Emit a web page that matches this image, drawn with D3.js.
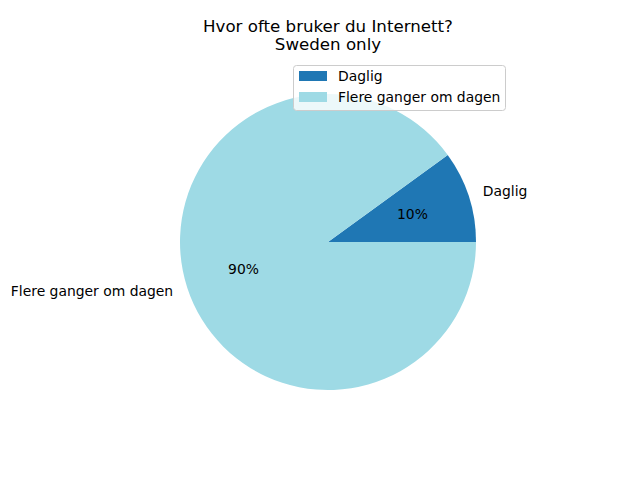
<!DOCTYPE html>
<html>
<head>
<meta charset="utf-8">
<script src="https://cdn.jsdelivr.net/npm/d3@7"></script>
<style>
  html, body { margin: 0; padding: 0; background: #fff; }
  svg { display: block; }
  text { font-family: "DejaVu Sans", sans-serif; fill: #000; }
</style>
</head>
<body>
<svg id="chart" width="640" height="480"></svg>
<script>
const categories = ["Daglig", "Flere ganger om dagen"];
const values = [10, 90];
const colors = ["#1f77b4", "#9edae5"];
const titleLines = ["Hvor ofte bruker du Internett?", "Sweden only"];

const svg = d3.select("#chart");
const cx = 328, cy = 242, r = 148;
const labelFont = 13.9, titleFont = 16.67;

const total = d3.sum(values);
const pie = d3.pie().sort(null)
  .startAngle(Math.PI / 2)
  .endAngle(Math.PI / 2 - 2 * Math.PI);
const arcs = pie(values);

const color = d3.scaleOrdinal().domain(categories).range(colors);
const arc = d3.arc().innerRadius(0).outerRadius(r);
const labelArc = d3.arc().innerRadius(r * 1.1).outerRadius(r * 1.1);
const pctArc = d3.arc().innerRadius(r * 0.6).outerRadius(r * 0.6);

const g = svg.append("g").attr("transform", `translate(${cx},${cy})`);

g.selectAll("path.slice").data(arcs).enter().append("path")
  .attr("class", "slice")
  .attr("d", arc)
  .attr("fill", (d, i) => color(categories[i]));

g.selectAll("text.lab").data(arcs).enter().append("text")
  .attr("class", "lab")
  .attr("x", d => labelArc.centroid(d)[0])
  .attr("y", d => labelArc.centroid(d)[1])
  .attr("dy", "0.3em")
  .attr("text-anchor", d => labelArc.centroid(d)[0] >= 0 ? "start" : "end")
  .style("font-size", labelFont + "px")
  .text((d, i) => categories[i]);

g.selectAll("text.pct").data(arcs).enter().append("text")
  .attr("class", "pct")
  .attr("x", d => pctArc.centroid(d)[0])
  .attr("y", d => pctArc.centroid(d)[1])
  .attr("dy", "0.3em")
  .attr("text-anchor", "middle")
  .style("font-size", labelFont + "px")
  .text(d => Math.round(d.value / total * 100) + "%");

// Title
const title = svg.append("text")
  .attr("x", cx)
  .attr("text-anchor", "middle")
  .style("font-size", titleFont + "px");
titleLines.forEach((t, i) => {
  title.append("tspan").attr("x", cx).attr("y", 32 + i * 18).text(t);
});

// Legend
const lg = svg.append("g").attr("transform", "translate(293.5,65.5)");
lg.append("rect")
  .attr("width", 212).attr("height", 45)
  .attr("rx", 3).attr("ry", 3)
  .attr("fill", "#fff").attr("fill-opacity", 0.8)
  .attr("stroke", "#cccccc").attr("stroke-width", 1);
const items = lg.selectAll("g.item").data(categories).enter().append("g")
  .attr("class", "item")
  .attr("transform", (d, i) => `translate(0,${5.5 + i * 21})`);
items.append("rect")
  .attr("x", 5.5).attr("y", 0)
  .attr("width", 28).attr("height", 10)
  .attr("fill", d => color(d));
items.append("text")
  .attr("x", 44.5).attr("y", 5)
  .attr("dy", "0.35em")
  .style("font-size", labelFont + "px")
  .text(d => d);
</script>
</body>
</html>
